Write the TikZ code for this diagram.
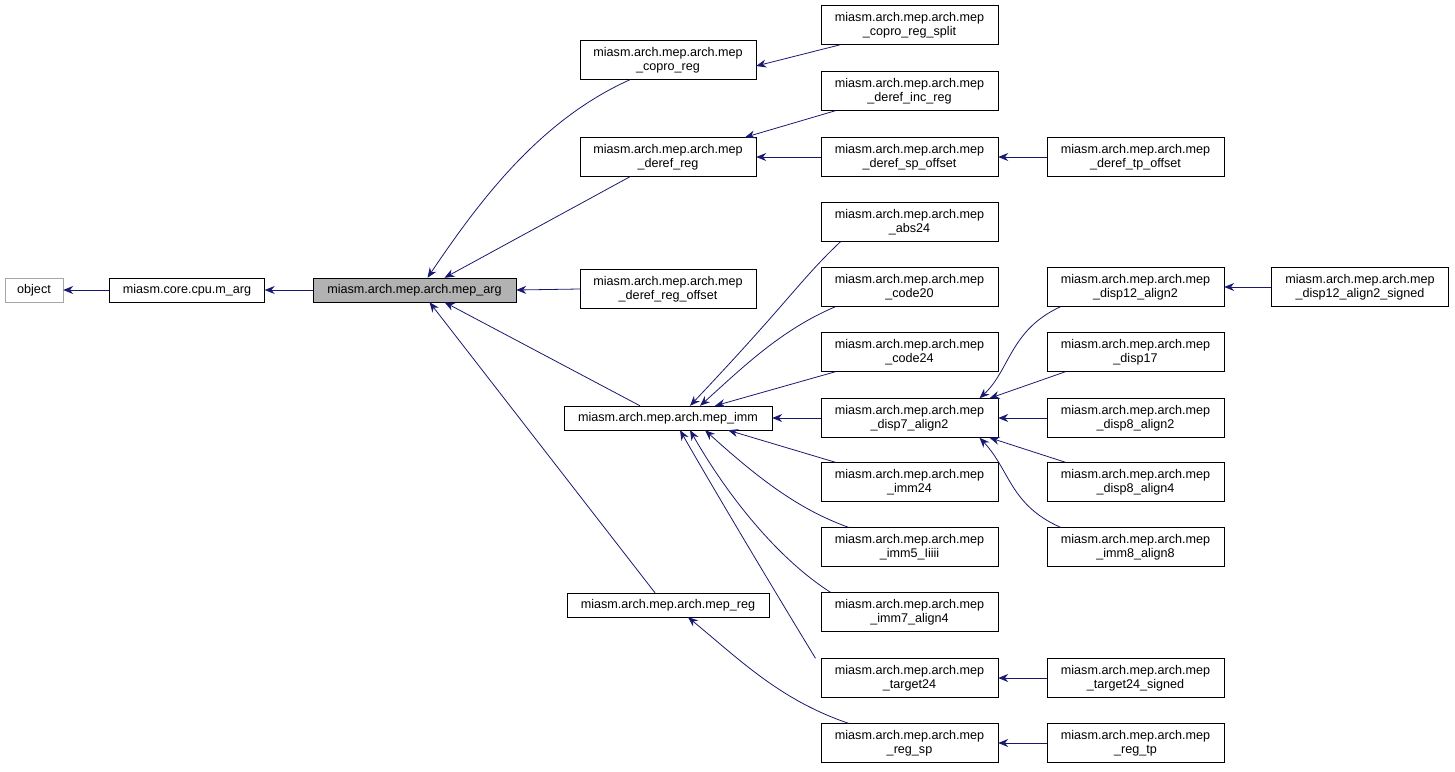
\documentclass[tikz,border=0pt]{standalone}
\usepackage{fontspec}
\setmainfont{Liberation Sans}
\usetikzlibrary{arrows.meta}
\definecolor{edge}{RGB}{25,25,112}
\begin{document}
\begin{tikzpicture}[x=1pt,y=-1pt,
  box/.style={draw,fill=white,minimum width=177pt,minimum height=39pt,inner sep=1pt,align=center,font=\fontsize{12.6}{14.5}\selectfont},
  sbox/.style={draw,fill=white,minimum height=24pt,inner sep=3pt,font=\fontsize{12.6}{14.5}\selectfont},
  e/.style={draw=edge,line width=0.8pt,-{Stealth[length=10pt,width=8pt]}}]
\useasboundingbox (0,0) rectangle (1455,771);
\newcommand{\mm}{miasm.arch.mep.arch.mep\\}
\node[sbox,draw=gray!70,minimum width=58pt] (object) at (34,290) {object};
\node[sbox,minimum width=155pt] (marg) at (187,290) {miasm.core.cpu.m\_arg};
\node[sbox,fill=gray!60,minimum width=203pt] (arg) at (414.5,290) {miasm.arch.mep.arch.mep\_arg};
\node[box,minimum width=176pt] (copro) at (668,60) {\mm\_copro\_reg};
\node[box,minimum width=176pt] (deref) at (668,157) {\mm\_deref\_reg};
\node[box,minimum width=176pt] (derefoff) at (668,289) {\mm\_deref\_reg\_offset};
\node[sbox,minimum width=208pt] (imm) at (668,418) {miasm.arch.mep.arch.mep\_imm};
\node[sbox,minimum width=202pt] (reg) at (668,605) {miasm.arch.mep.arch.mep\_reg};
\node[box] (split) at (909.5,25) {\mm\_copro\_reg\_split};
\node[box] (inc) at (909.5,91) {\mm\_deref\_inc\_reg};
\node[box] (spoff) at (909.5,157) {\mm\_deref\_sp\_offset};
\node[box] (abs) at (909.5,222) {\mm\_abs24};
\node[box] (c20) at (909.5,287) {\mm\_code20};
\node[box] (c24) at (909.5,352) {\mm\_code24};
\node[box] (d7) at (909.5,418) {\mm\_disp7\_align2};
\node[box] (i24) at (909.5,482) {\mm\_imm24};
\node[box] (i5) at (909.5,547) {\mm\_imm5\_Iiiii};
\node[box] (i7) at (909.5,612) {\mm\_imm7\_align4};
\node[box] (t24) at (909.5,678) {\mm\_target24};
\node[box] (rsp) at (909.5,743) {\mm\_reg\_sp};
\node[box] (tpoff) at (1135.5,157) {\mm\_deref\_tp\_offset};
\node[box] (d12) at (1135.5,287) {\mm\_disp12\_align2};
\node[box] (d17) at (1135.5,352) {\mm\_disp17};
\node[box] (d8a2) at (1135.5,418) {\mm\_disp8\_align2};
\node[box] (d8a4) at (1135.5,482) {\mm\_disp8\_align4};
\node[box] (i8) at (1135.5,547) {\mm\_imm8\_align8};
\node[box] (t24s) at (1135.5,678) {\mm\_target24\_signed};
\node[box] (rtp) at (1135.5,743) {\mm\_reg\_tp};
\node[box] (d12s) at (1360,287) {\mm\_disp12\_align2\_signed};
% edges
\draw[e] (marg) -- (object);
\draw[e] (arg) -- (marg);
\draw[e] ([xshift=-38pt]copro.south) .. controls (540,120) and (480,200) .. ([xshift=13pt]arg.north);
\draw[e] ([xshift=-38pt]deref.south) -- ([xshift=30pt]arg.north);
\draw[e] (derefoff.west) -- (arg.east);
\draw[e] ([xshift=-28pt]imm.north) -- ([xshift=30pt]arg.south);
\draw[e] ([xshift=-13pt]reg.north) -- ([xshift=15pt]arg.south);
\draw[e] ([xshift=-69pt]split.south) -- ([yshift=-6pt]copro.east);
\draw[e] ([xshift=-74pt]inc.south) -- ([xshift=77pt]deref.north);
\draw[e] (spoff) -- (deref);
\draw[e] (tpoff) -- (spoff);
\draw[e] ([xshift=-69pt]abs.south) .. controls (800,280) and (790,300) .. ([xshift=22pt]imm.north);
\draw[e] ([xshift=-74pt]c20.south) .. controls (780,330) and (740,370) .. ([xshift=32pt]imm.north);
\draw[e] ([xshift=-74pt]c24.south) -- ([xshift=47pt]imm.north);
\draw[e] (d7) -- (imm);
\draw[e] ([xshift=-74pt]i24.north) -- ([xshift=60pt]imm.south);
\draw[e] ([xshift=-61pt]i5.north) .. controls (800,510) and (760,480) .. ([xshift=37pt]imm.south);
\draw[e] ([xshift=-79pt]i7.north) .. controls (780,560) and (730,500) .. ([xshift=22pt]imm.south);
\draw[e] ([xshift=-94pt]t24.north) .. controls (780,600) and (720,500) .. ([xshift=12pt]imm.south);
\draw[e] ([xshift=-61pt]rsp.north) .. controls (780,700) and (740,660) .. ([xshift=20pt]reg.south);
\draw[e] ([xshift=-75pt]d12.south) .. controls (1010,330) and (1010,370) .. ([xshift=70pt]d7.north);
\draw[e] ([xshift=-70pt]d17.south) -- ([xshift=80pt]d7.north);
\draw[e] (d8a2) -- (d7);
\draw[e] ([xshift=-70pt]d8a4.north) -- ([xshift=80pt]d7.south);
\draw[e] ([xshift=-75pt]i8.north) .. controls (1010,505) and (1010,470) .. ([xshift=70pt]d7.south);
\draw[e] (d12s) -- (d12);
\draw[e] (t24s) -- (t24);
\draw[e] (rtp) -- (rsp);
\end{tikzpicture}
\end{document}
